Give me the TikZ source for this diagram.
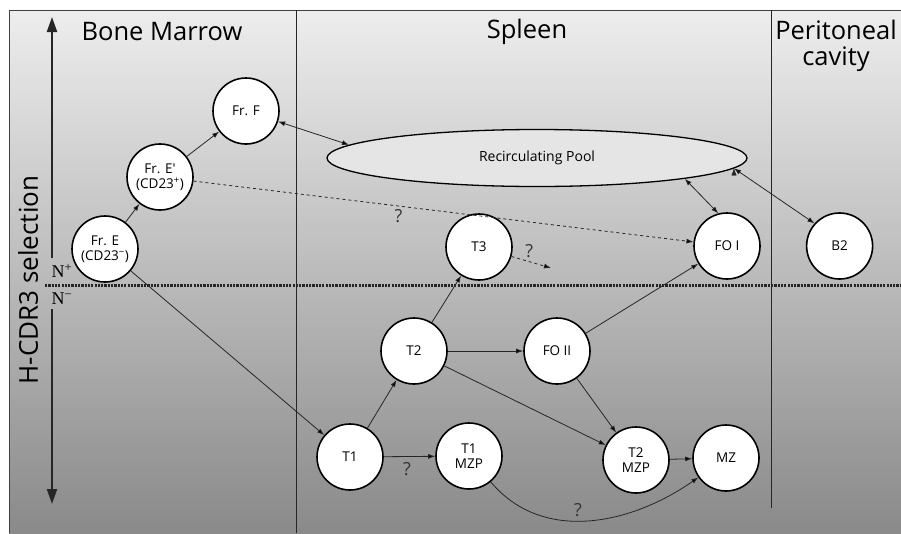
\documentclass[tikz,border=0pt]{standalone}
\usepackage{fontspec}
\setmainfont{Open Sans}
\newfontfamily\nserif{Liberation Serif}
\newfontfamily\plainq{Open Sans}
\usetikzlibrary{arrows.meta,positioning,shapes.geometric}

\begin{document}
\begin{tikzpicture}[x=1pt,y=-1pt,>={Latex[length=7pt,width=5pt]},
	every node/.style={font=\fontsize{13.5}{15}\selectfont},
	cell/.style={circle,draw,line width=1.6pt,fill=white,minimum size=66pt,inner sep=0pt,align=center},
	pool/.style={ellipse,draw,line width=1.3pt,fill=black!10,minimum width=420pt,minimum height=57pt,inner sep=0pt,font=\fontsize{14}{16}\selectfont},
	region/.style={font=\fontsize{25.5}{26}\selectfont,align=center},
	qmark/.style={font=\fontsize{18}{18}\selectfont,text=black!80},
	link/.style={->,line width=0.8pt,draw=black!85},
	axis/.style={-{Triangle[length=15pt,width=10pt]},line width=2.2pt,draw=black!85}]
	 \useasboundingbox (0,0) rectangle (901,533);
	 % background and frame
	 \shade[top color=black!7,bottom color=black!46] (9,10) rectangle (901,533);
	 \draw[black!75,line width=1pt] (9,533) -- (9,10) -- (901,10);
	 \draw[black!85,line width=0.9pt] (296,10) -- (296,533);
	 \draw[black!85,line width=0.9pt] (771,10) -- (771,508);

	 \node[region] (bm) at (162,32) {Bone Marrow};
	 \node[region] (spl) at (527,32) {Spleen};
	 \node[region] (pc) at (836,46) {Peritoneal\\cavity};

	 % selection axis
	 \node[rotate=90,font=\fontsize{26}{30}\selectfont] (hcdr) at (28,280) {H-CDR3 selection};
	 \coordinate (axtop) at (52,17);
	 \coordinate (axup) at (52,258);
	 \coordinate (axdn) at (52,309);
	 \coordinate (axbot) at (52,504);
	 \draw[axis] (axup) -- (axtop);
	 \draw[axis] (axdn) -- (axbot);
	 \node[font=\nserif\fontsize{18}{18}\selectfont] (nplus) at (62,271) {N\textsuperscript{+}};
	 \node[font=\nserif\fontsize{18}{18}\selectfont] (nminus) at (62,299) {N\textsuperscript{−}};
	 \coordinate (dotl) at (45,285);
	 \coordinate (dotr) at (901,285);
	 \draw[black!85,line width=3pt,dash pattern=on 2.2pt off 1.1pt] (dotl) -- (dotr);

	 % cells
	 \node[cell] (frE) at (105,249) {Fr. E\\(CD23\textsuperscript{−})};
	 \node[cell] (frEp) at (160,177) {Fr. E{\plainq'}\\(CD23\textsuperscript{+})};
	 \node[cell] (frF) at (246,111) {Fr. F};
	 \node[pool] (pool) at (537,158) {Recirculating Pool};
	 \node[cell] (t3) at (479,247) {T3};
	 \node[cell] (fo1) at (727,246) {FO I};
	 \node[cell] (b2) [right=45pt of fo1] {B2};
	 \node[cell] (t2) at (414,351) {T2};
	 \node[cell] (fo2) at (557,351) {FO II};
	 \node[cell] (t1) at (350,457) {T1};
	 \node[cell] (t1mzp) at (469,456) {T1\\MZP};
	 \node[cell] (t2mzp) at (636,460) {T2\\MZP};
	 \node[cell] (mz) at (726,458) {MZ};
	 \coordinate (t3end) at (551,268);

	 \path[link]
	 (frE) edge (frEp)
	 (frEp) edge (frF)
	 (frE) edge (t1)
	 (frEp) edge [dashed] node[qmark,below,pos=.41] {?} (fo1)
	 (t1) edge (t2)
	 (t1) edge node[qmark,below=2pt,pos=.45] {?} (t1mzp)
	 (t2) edge (t3)
	 (t2) edge (fo2)
	 (t2) edge (t2mzp)
	 (t3) edge [dashed] node[qmark,above,pos=.45] {?} (t3end)
	 (fo2) edge (fo1)
	 (fo2) edge (t2mzp)
	 (t2mzp) edge (mz)
	 (t1mzp) edge [out=-50,in=-145] node[qmark,above,pos=.45] {?} (mz);

	 \path[link,<->]
	 (frF) edge (pool.176)
	 (pool.-8) edge (fo1.105)
	 (pool.-3.5) edge (b2.138);
	 \end{tikzpicture}
\end{document}
